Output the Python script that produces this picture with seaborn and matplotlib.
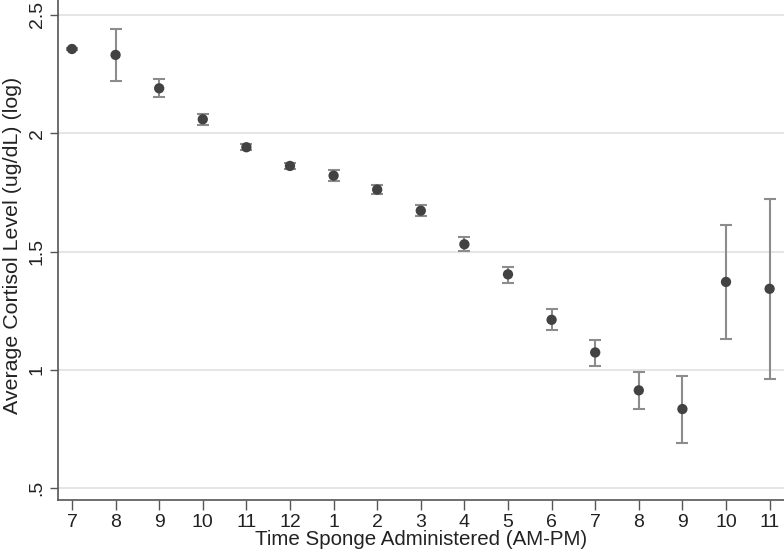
import numpy as np
import pandas as pd
import matplotlib
matplotlib.use("Agg")
import matplotlib.pyplot as plt
import seaborn as sns

hours = ["7", "8", "9", "10", "11", "12", "1", "2", "3", "4", "5", "6", "7", "8", "9", "10", "11"]
mean_log = [2.356, 2.331, 2.190, 2.059, 1.941, 1.862, 1.821, 1.762, 1.673, 1.531,
            1.404, 1.212, 1.074, 0.914, 0.835, 1.372, 1.343]
lower_ci = [2.350, 2.221, 2.152, 2.035, 1.928, 1.850, 1.797, 1.743, 1.650, 1.503,
            1.369, 1.169, 1.018, 0.835, 0.692, 1.133, 0.964]
upper_ci = [2.362, 2.441, 2.231, 2.083, 1.954, 1.874, 1.845, 1.781, 1.696, 1.560,
            1.436, 1.256, 1.126, 0.990, 0.974, 1.611, 1.721]
yticks = [0.5, 1.0, 1.5, 2.0, 2.5]
ytick_labels = [".5", "1", "1.5", "2", "2.5"]

df = pd.DataFrame({"pos": np.arange(len(hours)), "hour": hours,
                   "mean": mean_log, "lo": lower_ci, "hi": upper_ci})

sns.set_style("white")
plt.rcParams["font.family"] = ["Liberation Sans", "DejaVu Sans"]

fig = plt.figure(figsize=(7.84, 5.57), dpi=100)
ax = fig.add_axes([0.074, 0.102, 0.926, 0.898])

for y in yticks:
    ax.axhline(y, color="#e3e3e3", lw=1.3, zorder=0)

ax.errorbar(df["pos"], df["mean"],
            yerr=[df["mean"] - df["lo"], df["hi"] - df["mean"]],
            fmt="none", ecolor="#8c8c8c", elinewidth=1.5, capsize=4, capthick=1.5, zorder=2)
sns.scatterplot(data=df, x="pos", y="mean", ax=ax, color="#424242", s=55,
                edgecolor="none", zorder=3)

ax.set_xlim(-0.32, 16.33)
ax.set_ylim(0.45, 2.563)
ax.set_xticks(df["pos"])
ax.set_xticklabels(hours)
ax.set_yticks(yticks)
ax.set_yticklabels(ytick_labels, rotation=90, va="center")

for s in ["top", "right"]:
    ax.spines[s].set_visible(False)
for s in ["left", "bottom"]:
    ax.spines[s].set_color("#555555")
    ax.spines[s].set_linewidth(1.2)

ax.tick_params(axis="x", bottom=True, length=7, width=1, color="#555555", labelsize=14, pad=3,
               labelcolor="#222222")
ax.tick_params(axis="y", left=True, length=6, width=1, color="#555555", labelsize=14, pad=3,
               labelcolor="#222222")
ax.set_xlabel("Time Sponge Administered (AM-PM)", fontsize=14.8, color="#222222", labelpad=-1)
ax.set_ylabel("Average Cortisol Level (ug/dL) (log)", fontsize=15.4, color="#222222")
ax.yaxis.set_label_coords(-0.049, 0.51)

fig.savefig("out.png", dpi=100)
